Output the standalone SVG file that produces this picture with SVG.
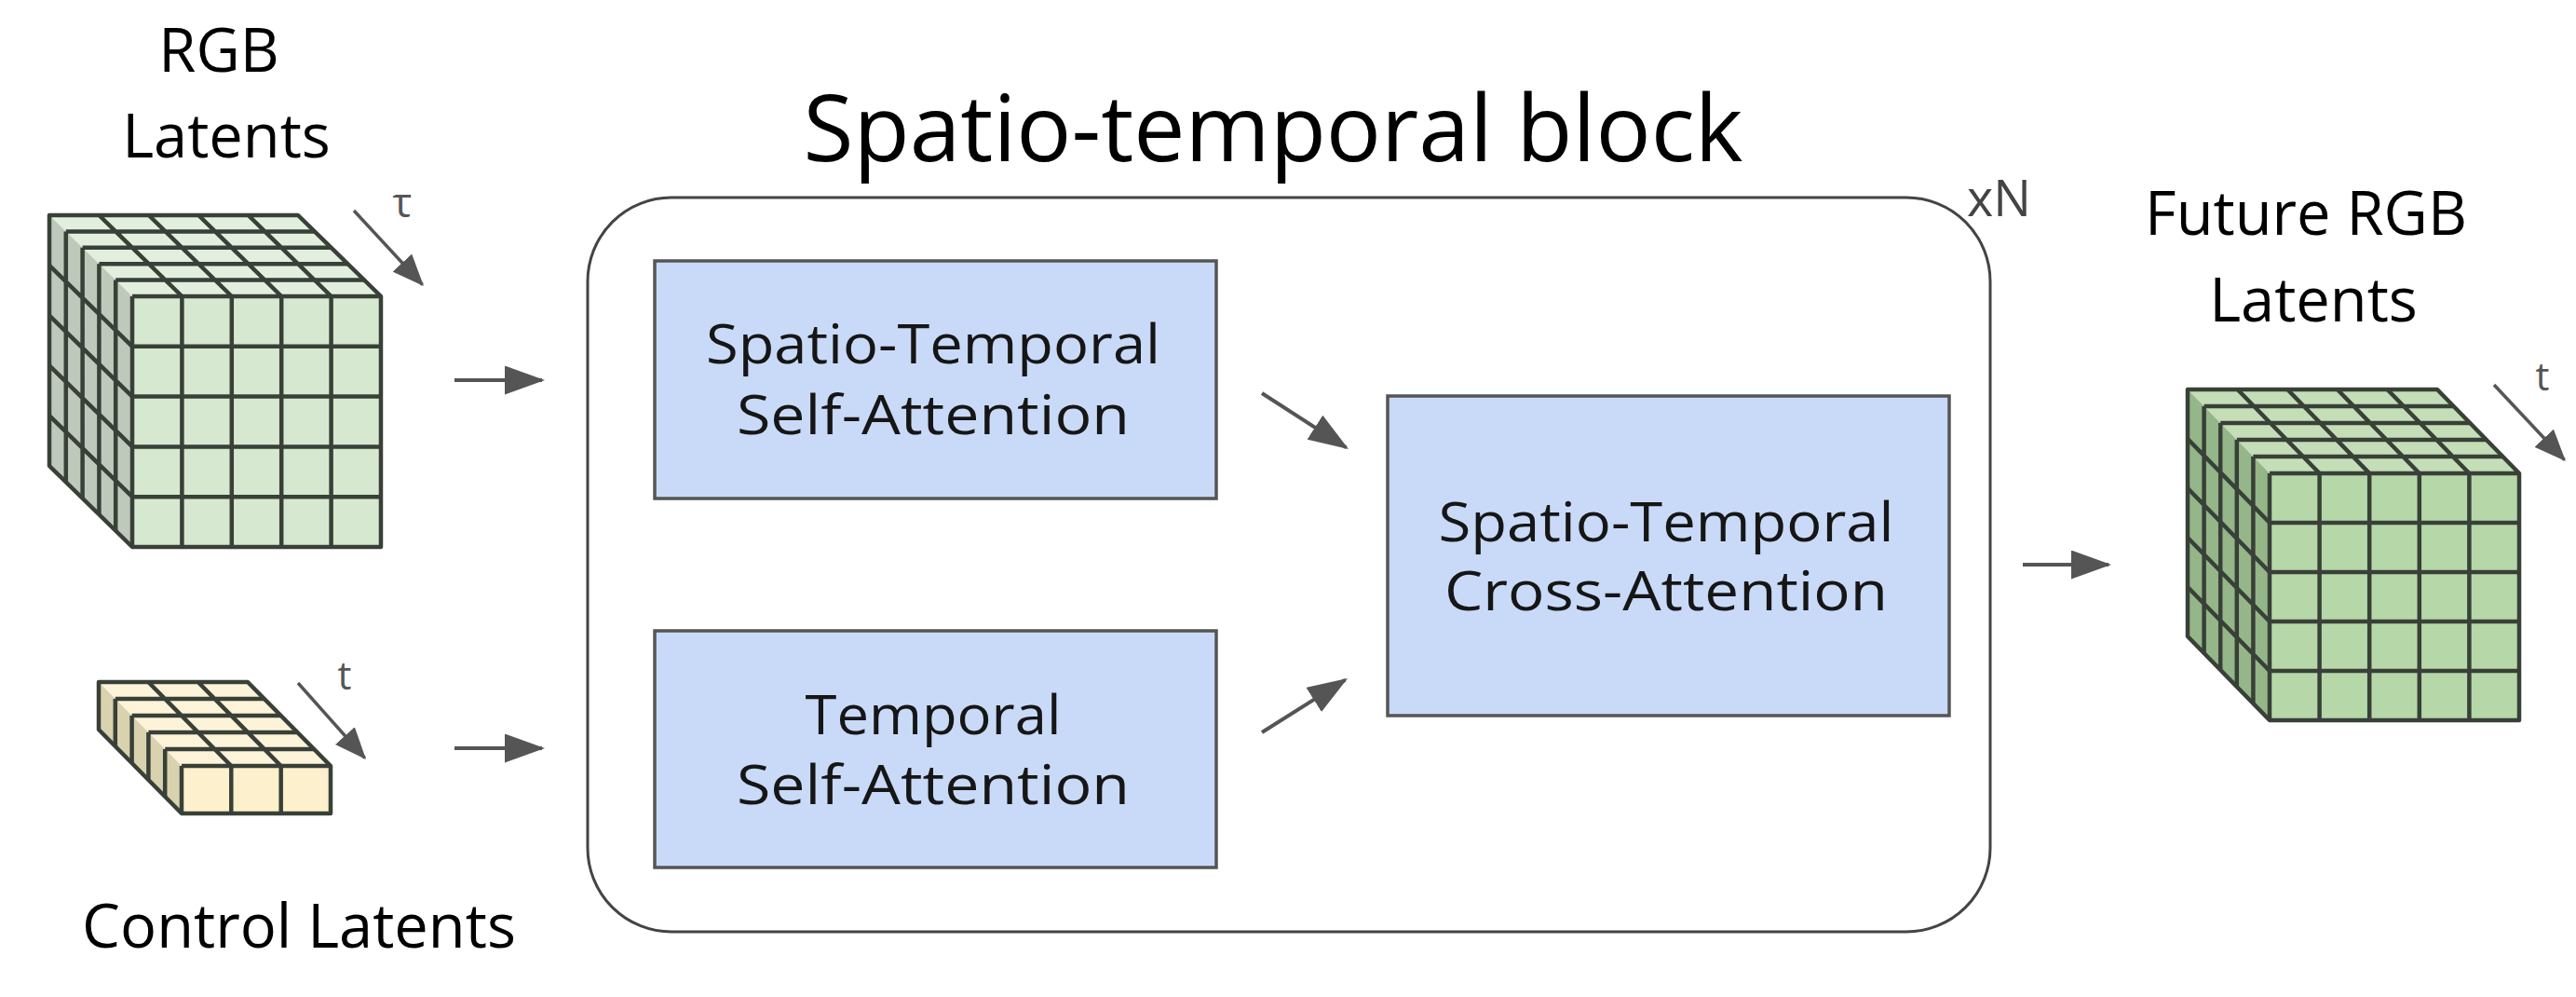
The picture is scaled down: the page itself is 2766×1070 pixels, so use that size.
<svg xmlns="http://www.w3.org/2000/svg" width="2766" height="1070" viewBox="0 0 2766 1070">
<style>
.lbl{font-family:"Open Sans","Noto Sans","Liberation Sans",sans-serif;fill:#000;}
.box{fill:#c9daf8;stroke:#555;stroke-width:3.5;}
.bt{font-family:"Open Sans","Noto Sans","Liberation Sans",sans-serif;font-size:58px;font-weight:500;fill:#161616;text-anchor:middle;}
.grid{stroke:#384038;stroke-width:4.5;fill:none;stroke-linejoin:round;}
.arr{stroke:#555;stroke-width:4;fill:none;}
.sarr{stroke:#555;stroke-width:3.5;fill:none;}
.ax{font-family:"Open Sans","Noto Sans","Liberation Sans",sans-serif;fill:#555;text-anchor:middle;}
</style>
<defs>
<marker id="ah" markerUnits="userSpaceOnUse" markerWidth="43" markerHeight="31" viewBox="0 0 43 31" refX="40" refY="15.5" orient="auto">
<path d="M0,0 L43,15.5 L0,31 z" fill="#555"/>
</marker>
<marker id="sh" markerUnits="userSpaceOnUse" markerWidth="34" markerHeight="28" viewBox="0 0 34 28" refX="32" refY="14" orient="auto">
<path d="M0,0 L34,14 L0,28 z" fill="#555"/>
</marker>
</defs>
<rect width="2766" height="1070" fill="#fff"/>

<text class="lbl" x="1367" y="173" font-size="99" text-anchor="middle" textLength="1009" lengthAdjust="spacingAndGlyphs">Spatio-temporal block</text>

<g id="rgb-latents">
<text class="lbl" x="235" y="77" font-size="65" text-anchor="middle">RGB</text>
<text class="lbl" x="243" y="169" font-size="65" text-anchor="middle">Latents</text>
<polygon points="142,318 409,318 320,231 53,231" fill="#e3efde"/>
<polygon points="142,318 142,587 53,500 53,231" fill="#bfc9bb"/>
<rect x="142" y="318" width="267" height="269" fill="#d6e8d0"/>
<g class="grid">
<polygon points="53,231 320,231 409,318 409,587 142,587 53,500"/>
<path d="M142,318V587M195.4,318V587M248.8,318V587M302.2,318V587M355.6,318V587M142,318H409M142,371.8H409M142,425.6H409M142,479.4H409M142,533.2H409"/>
<path d="M124.2,300.6H391.2M106.4,283.2H373.4M88.6,265.8H355.6M70.8,248.4H337.8M195.4,318L106.4,231M248.8,318L159.8,231M302.2,318L213.2,231M355.6,318L266.6,231"/>
<path d="M124.2,300.6V569.6M106.4,283.2V552.2M88.6,265.8V534.8M70.8,248.4V517.4M142,371.8L53,284.8M142,425.6L53,338.6M142,479.4L53,392.4M142,533.2L53,446.2"/>
</g>
<text class="ax" x="432" y="233" font-size="44">τ</text>
<line class="sarr" x1="380" y1="226" x2="453.6" y2="305.5" marker-end="url(#sh)"/>
</g>

<g id="control-latents">
<polygon points="195,822 355,822 266,732 106,732" fill="#fdf3d8"/>
<polygon points="195,822 195,873 106,783 106,732" fill="#d9d2ae"/>
<rect x="195" y="822" width="160" height="51" fill="#fdf0cc"/>
<g class="grid">
<polygon points="106,732 266,732 355,822 355,873 195,873 106,783"/>
<path d="M195,822V873M248.3,822V873M301.7,822V873M195,822H355"/>
<path d="M177.2,804H337.2M159.4,786H319.4M141.6,768H301.6M123.8,750H283.8M248.3,822L159.3,732M301.7,822L212.7,732"/>
<path d="M177.2,804V855M159.4,786V837M141.6,768V819M123.8,750V801"/>
</g>
<text class="ax" x="370" y="740" font-size="42">t</text>
<line class="sarr" x1="320" y1="733" x2="391.7" y2="813.5" marker-end="url(#sh)"/>
<text class="lbl" x="321" y="1017" font-size="65" text-anchor="middle">Control Latents</text>
</g>

<g id="spatio-temporal-block">
<rect x="631" y="212" width="1506" height="788" rx="90" ry="90" fill="#fff" stroke="#444" stroke-width="3"/>
<text x="2112" y="232" font-family="Open Sans, Noto Sans, Liberation Sans, sans-serif" font-size="54" fill="#444">xN</text>
</g>

<g id="st-self-attention">
<rect class="box" x="703" y="280" width="603" height="255"/>
<text class="bt" x="1002" y="390" textLength="488" lengthAdjust="spacingAndGlyphs">Spatio-Temporal</text>
<text class="bt" x="1002" y="466" textLength="422" lengthAdjust="spacingAndGlyphs">Self-Attention</text>
</g>

<g id="temporal-self-attention">
<rect class="box" x="703" y="677" width="603" height="254"/>
<text class="bt" x="1002" y="788" textLength="275" lengthAdjust="spacingAndGlyphs">Temporal</text>
<text class="bt" x="1002" y="863" textLength="422" lengthAdjust="spacingAndGlyphs">Self-Attention</text>
</g>

<g id="st-cross-attention">
<rect class="box" x="1490" y="425" width="603" height="343"/>
<text class="bt" x="1789" y="581" textLength="489" lengthAdjust="spacingAndGlyphs">Spatio-Temporal</text>
<text class="bt" x="1789" y="655" textLength="476" lengthAdjust="spacingAndGlyphs">Cross-Attention</text>
</g>

<g id="future-rgb-latents">
<text class="lbl" x="2476" y="252" font-size="65" text-anchor="middle">Future RGB</text>
<text class="lbl" x="2484" y="345" font-size="65" text-anchor="middle">Latents</text>
<polygon points="2437,508 2705,508 2617,418 2349,418" fill="#c4deb7"/>
<polygon points="2437,508 2437,773 2349,683 2349,418" fill="#94b688"/>
<rect x="2437" y="508" width="268" height="265" fill="#b6d7a8"/>
<g class="grid">
<polygon points="2349,418 2617,418 2705,508 2705,773 2437,773 2349,683"/>
<path d="M2437,508V773M2490.6,508V773M2544.2,508V773M2597.8,508V773M2651.4,508V773M2437,508H2705M2437,561H2705M2437,614H2705M2437,667H2705M2437,720H2705"/>
<path d="M2419.4,490H2687.4M2401.8,472H2669.8M2384.2,454H2652.2M2366.6,436H2634.6M2490.6,508L2402.6,418M2544.2,508L2456.2,418M2597.8,508L2509.8,418M2651.4,508L2563.4,418"/>
<path d="M2419.4,490V755M2401.8,472V737M2384.2,454V719M2366.6,436V701M2437,561L2349,471M2437,614L2349,524M2437,667L2349,577M2437,720L2349,630"/>
</g>
<text class="ax" x="2730" y="419" font-size="42">t</text>
<line class="sarr" x1="2678" y1="413" x2="2753.6" y2="493.5" marker-end="url(#sh)"/>
</g>

<g id="connectors">
<line class="arr" x1="488" y1="408" x2="582" y2="408" marker-end="url(#ah)"/>
<line class="arr" x1="488" y1="803" x2="582" y2="803" marker-end="url(#ah)"/>
<line class="arr" x1="1355" y1="422" x2="1445.5" y2="480.4" marker-end="url(#ah)"/>
<line class="arr" x1="1355" y1="786" x2="1444.5" y2="729.6" marker-end="url(#ah)"/>
<line class="arr" x1="2172" y1="606" x2="2264" y2="606" marker-end="url(#ah)"/>
</g>
</svg>
